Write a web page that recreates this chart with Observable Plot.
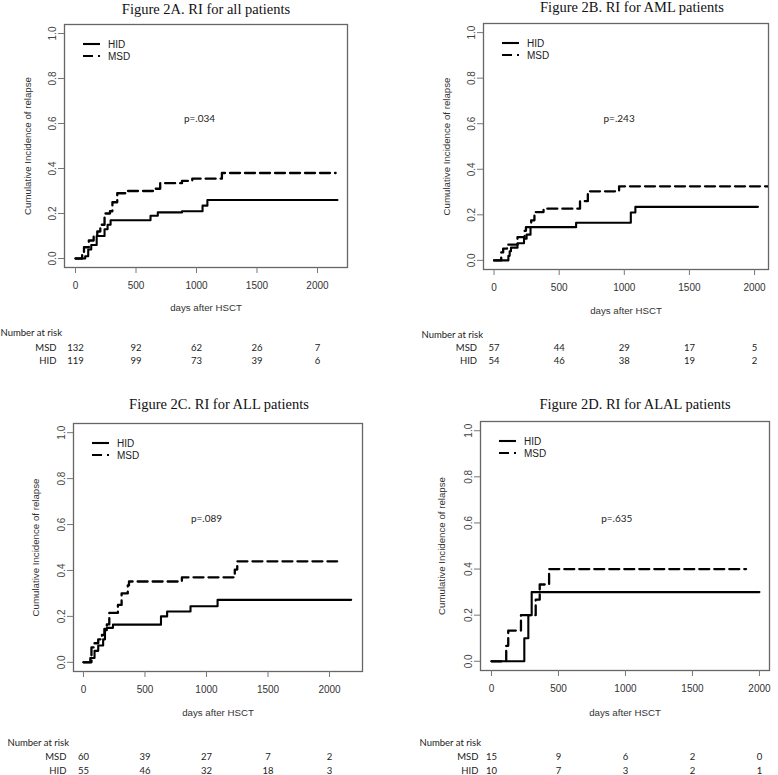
<!DOCTYPE html>
<html>
<head>
<meta charset="utf-8">
<script src="https://cdn.jsdelivr.net/npm/d3@7"></script>
<script src="https://cdn.jsdelivr.net/npm/@observablehq/plot@0.6"></script>
<style>
  html, body { margin: 0; padding: 0; background: #fff; }
  #page { position: relative; width: 778px; height: 775px; overflow: hidden; background: #fff; }
  .panel { position: absolute; }
</style>
</head>
<body>
<div id="page"></div>
<script>
// ---------- Data ----------
const riskDays = [0, 500, 1000, 1500, 2000];
const xTicks = [0, 500, 1000, 1500, 2000];
const yTicks = [0, 0.2, 0.4, 0.6, 0.8, 1.0];
const groups = ["HID", "MSD"];

// Figure 2A: all patients
const A_hidDays = [0, 80, 105, 130, 175, 240, 265, 290, 620, 680, 880, 1050, 1090, 2165];
const A_hidCI   = [0, 0.01, 0.04, 0.06, 0.10, 0.13, 0.15, 0.17, 0.19, 0.205, 0.21, 0.235, 0.26, 0.26];
const A_msdDays = [0, 55, 70, 110, 150, 180, 205, 240, 285, 305, 345, 415, 660, 700, 880, 965, 1210, 2150];
const A_msdCI   = [0, 0.02, 0.05, 0.08, 0.10, 0.12, 0.15, 0.20, 0.21, 0.25, 0.29, 0.30, 0.31, 0.335, 0.345, 0.355, 0.38, 0.38];
const A_riskMSD = [132, 92, 62, 26, 7];
const A_riskHID = [119, 99, 73, 39, 6];

// Figure 2B: AML patients
const B_hidDays = [0, 110, 120, 130, 180, 230, 250, 280, 630, 1050, 1085, 2026];
const B_hidCI   = [0, 0.02, 0.04, 0.056, 0.075, 0.095, 0.113, 0.146, 0.165, 0.21, 0.235, 0.235];
const B_msdDays = [0, 55, 70, 100, 180, 235, 245, 285, 310, 380, 660, 720, 960, 2160];
const B_msdCI   = [0, 0.035, 0.052, 0.069, 0.102, 0.13, 0.146, 0.176, 0.212, 0.227, 0.26, 0.303, 0.325, 0.325];
const B_riskMSD = [57, 44, 29, 17, 5];
const B_riskHID = [54, 46, 38, 19, 2];

// Figure 2C: ALL patients
const C_hidDays = [0, 55, 90, 120, 160, 175, 190, 240, 630, 680, 870, 1090, 2176];
const C_hidCI   = [0, 0.019, 0.05, 0.073, 0.10, 0.14, 0.15, 0.164, 0.20, 0.221, 0.244, 0.272, 0.272];
const C_msdDays = [0, 65, 90, 120, 150, 170, 190, 210, 280, 310, 360, 370, 800, 1230, 1250, 2062];
const C_msdCI   = [0, 0.065, 0.083, 0.10, 0.119, 0.145, 0.165, 0.215, 0.25, 0.30, 0.335, 0.352, 0.37, 0.404, 0.44, 0.44];
const C_riskMSD = [60, 39, 27, 7, 2];
const C_riskHID = [55, 46, 32, 18, 3];

// Figure 2D: ALAL patients
const D_hidDays = [0, 245, 275, 300, 2000];
const D_hidCI   = [0, 0.10, 0.20, 0.30, 0.30];
const D_msdDays = [0, 110, 125, 220, 330, 360, 430, 1900];
const D_msdCI   = [0, 0.067, 0.133, 0.20, 0.267, 0.333, 0.40, 0.40];
const D_riskMSD = [15, 9, 6, 2, 0];
const D_riskHID = [10, 7, 3, 2, 1];

const titles = [
  "Figure 2A. RI for all patients",
  "Figure 2B. RI for AML patients",
  "Figure 2C. RI for ALL patients",
  "Figure 2D. RI for ALAL patients"
];
const pLabels = ["p=.034", "p=.243", "p=.089", "p=.635"];
const xLabel = "days after HSCT";
const yLabel = "Cumulative Incidence of relapse";
const riskTitle = "Number at risk";

// ---------- Layout per panel ----------
const panels = [
  { left: 0, top: 0, width: 389, height: 370, mL: 64, mR: 42, mT: 24, mB: 103,
    xDomain: [-91, 2248], hidDays: A_hidDays, hidCI: A_hidCI, msdDays: A_msdDays, msdCI: A_msdCI,
    riskMSD: A_riskMSD, riskHID: A_riskHID, title: titles[0], p: pLabels[0], pX: 1025, pY: 0.622,
    titleDx: 0, titleDy: -15, yLabDx: -37, xLabDy: 40, nar: [65, 80, 93], narDx: -64, grpDx: -9 },
  { left: 389, top: 0, width: 389, height: 370, mL: 94, mR: 10, mT: 23, mB: 101,
    xDomain: [-81, 2107], hidDays: B_hidDays, hidCI: B_hidCI, msdDays: B_msdDays, msdCI: B_msdCI,
    riskMSD: B_riskMSD, riskHID: B_riskHID, title: titles[1], p: pLabels[1], pX: 960, pY: 0.623,
    titleDx: 6, titleDy: -16, yLabDx: -37, xLabDy: 41, nar: [65, 78, 91], narDx: -62, grpDx: -7 },
  { left: 0, top: 370, width: 389, height: 405, mL: 73, mR: 27, mT: 53, mB: 104,
    xDomain: [-81, 2268], hidDays: C_hidDays, hidCI: C_hidCI, msdDays: C_msdDays, msdCI: C_msdCI,
    riskMSD: C_riskMSD, riskHID: C_riskHID, title: titles[2], p: pLabels[2], pX: 1000, pY: 0.626,
    titleDx: 1, titleDy: -19, yLabDx: -38, xLabDy: 41, nar: [71, 85, 99], narDx: -66, grpDx: -7 },
  { left: 389, top: 370, width: 389, height: 405, mL: 91, mR: 9, mT: 51, mB: 105,
    xDomain: [-82, 2075], hidDays: D_hidDays, hidCI: D_hidCI, msdDays: D_msdDays, msdCI: D_msdCI,
    riskMSD: D_riskMSD, riskHID: D_riskHID, title: titles[3], p: pLabels[3], pX: 935, pY: 0.619,
    titleDx: 10, titleDy: -17, yLabDx: -39, xLabDy: 42, nar: [72, 86, 100], narDx: -61, grpDx: -3 }
];

const SANS = "'Liberation Sans', Arial, sans-serif";
const SERIF = "'Liberation Serif', 'Times New Roman', serif";
const CAL = "Lato, 'Open Sans', sans-serif";
const DASH = "10,5";

function makePanel(cfg) {
  const hid = cfg.hidDays.map((d, i) => ({ day: d, ci: cfg.hidCI[i] }));
  const msd = cfg.msdDays.map((d, i) => ({ day: d, ci: cfg.msdCI[i] }));
  const riskRows = riskDays.map((d, i) => ({ day: d, msd: cfg.riskMSD[i], hid: cfg.riskHID[i] }));

  const svg = Plot.plot({
    width: cfg.width, height: cfg.height,
    marginLeft: cfg.mL, marginRight: cfg.mR, marginTop: cfg.mT, marginBottom: cfg.mB,
    x: { domain: cfg.xDomain },
    y: { domain: [-0.04, 1.04] },
    style: { fontFamily: SANS, fontSize: "10px", background: "#fff", overflow: "visible" },
    marks: [
      Plot.frame({ stroke: "#666", strokeWidth: 1.3 }),
      Plot.axisX({ ticks: xTicks, tickSize: 6, tickPadding: 8, tickFormat: d => String(d),
                   label: null, stroke: "#777", fill: "#333", fontSize: 10 }),
      Plot.axisY({ ticks: yTicks, tickSize: 6, tickFormat: () => "", label: null, stroke: "#777" }),
      Plot.text(yTicks, { y: d => d, text: d => d.toFixed(1), frameAnchor: "left", dx: -12,
                          rotate: -90, textAnchor: "middle", lineAnchor: "middle", fill: "#444", fontSize: 10 }),
      Plot.line(hid, { x: "day", y: "ci", curve: "step-after", stroke: "#000", strokeWidth: 2.1, clip: true }),
      Plot.line(msd, { x: "day", y: "ci", curve: "step-after", stroke: "#000", strokeWidth: 2.3,
                       strokeDasharray: DASH, clip: true }),
      Plot.text([cfg.p], { x: cfg.pX, y: cfg.pY, text: d => d, fontFamily: CAL, fontSize: 10, fill: "#222" }),
      // title
      Plot.text([cfg.title], { frameAnchor: "top", dx: cfg.titleDx, dy: cfg.titleDy, text: d => d,
                               lineAnchor: "middle", fontFamily: SERIF, fontSize: 14.5, fill: "#111" }),
      // axis titles
      Plot.text([xLabel], { frameAnchor: "bottom", dy: cfg.xLabDy, text: d => d, lineAnchor: "middle",
                            fill: "#333", fontSize: 9.7 }),
      Plot.text([yLabel], { frameAnchor: "left", dx: cfg.yLabDx, rotate: -90, text: d => d,
                            textAnchor: "middle", lineAnchor: "middle", fill: "#333", fontSize: 9.7 }),
      // number at risk
      Plot.text([riskTitle], { frameAnchor: "bottom-left", dx: cfg.narDx, dy: cfg.nar[0], text: d => d,
                               textAnchor: "start", lineAnchor: "middle", fontFamily: CAL, fontSize: 9.5, fill: "#222" }),
      Plot.text(["MSD"], { x: 0, frameAnchor: "bottom", dx: cfg.grpDx - 10, dy: cfg.nar[1], text: d => d,
                           textAnchor: "end", lineAnchor: "middle", fontFamily: CAL, fontSize: 9.5, fill: "#222" }),
      Plot.text(["HID"], { x: 0, frameAnchor: "bottom", dx: cfg.grpDx - 10, dy: cfg.nar[2], text: d => d,
                           textAnchor: "end", lineAnchor: "middle", fontFamily: CAL, fontSize: 9.5, fill: "#222" }),
      Plot.text(riskRows, { x: "day", frameAnchor: "bottom", dy: cfg.nar[1], text: "msd",
                            lineAnchor: "middle", fontFamily: CAL, fontSize: 9.5, fill: "#222" }),
      Plot.text(riskRows, { x: "day", frameAnchor: "bottom", dy: cfg.nar[2], text: "hid",
                            lineAnchor: "middle", fontFamily: CAL, fontSize: 9.5, fill: "#222" })
    ]
  });

  // legend (top-left inside frame)
  const g = d3.select(svg).append("g").attr("transform", `translate(${cfg.mL},${cfg.mT})`);
  groups.forEach((name, i) => {
    const y = 20 + i * 12;
    g.append("line").attr("x1", 19).attr("x2", 36).attr("y1", y).attr("y2", y)
      .attr("stroke", "#000").attr("stroke-width", 2.1)
      .attr("stroke-dasharray", name === "MSD" ? DASH : null);
    g.append("text").attr("x", 44).attr("y", y).attr("dy", "0.35em")
      .attr("text-anchor", "start")
      .attr("font-family", SANS).attr("font-size", 10).attr("fill", "#222").text(name);
  });
  return svg;
}

const page = document.getElementById("page");
panels.forEach(cfg => {
  const div = document.createElement("div");
  div.className = "panel";
  div.style.left = cfg.left + "px";
  div.style.top = cfg.top + "px";
  div.style.width = cfg.width + "px";
  div.style.height = cfg.height + "px";
  div.appendChild(makePanel(cfg));
  page.appendChild(div);
});
</script>
</body>
</html>
